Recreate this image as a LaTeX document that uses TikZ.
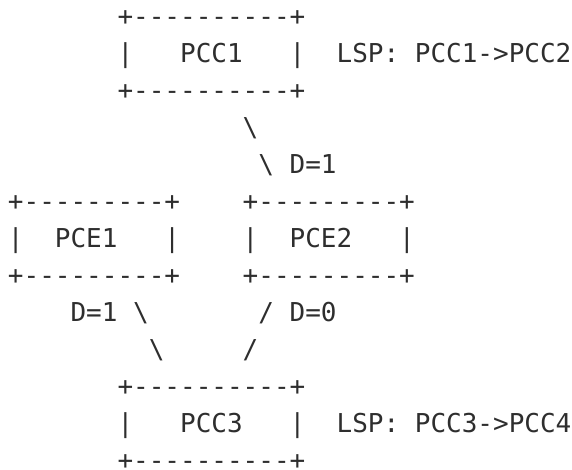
\documentclass[tikz,border=0pt]{standalone}
\usepackage{fontspec}
\setmonofont{DejaVu Sans Mono}
\tikzstyle{asc}=[anchor=base west,inner sep=0pt,text=black!82,font=\ttfamily\fontsize{19.5}{23}\selectfont]

\begin{document}
\begin{tikzpicture}[x=0.75pt,y=-0.75pt]
\fill[white] (0,0) rectangle (572,470);
\useasboundingbox (0,0) rectangle (572,470);
% PCC1
\node[asc] (pcc1top) at (117.25,25.4) {+----------+};
\node[asc] (pcc1l) at (117.25,62.4) {|};
\node[asc] (pcc1) at (179.85,62.4) {PCC1};
\node[asc] (pcc1r) at (289.4,62.4) {|};
\node[asc] (lsp1) at (336.35,62.4) {LSP: PCC1->PCC2};
\node[asc] (pcc1bot) at (117.25,99.4) {+----------+};
% link PCC1 - PCE2
\node[asc] (la) at (242.45,136.4) {\textbackslash};
\node[asc] (lb) at (258.1,173.4) {\textbackslash};
\node[asc] (d1) at (289.4,173.4) {D=1};
% PCE1, PCE2
\node[asc] (pce1top) at (7.7,210.4) {+---------+};
\node[asc] (pce2top) at (242.45,210.4) {+---------+};
\node[asc] (pce1l) at (7.7,247.4) {|};
\node[asc] (pce1) at (54.65,247.4) {PCE1};
\node[asc] (pce1r) at (164.2,247.4) {|};
\node[asc] (pce2l) at (242.45,247.4) {|};
\node[asc] (pce2) at (289.4,247.4) {PCE2};
\node[asc] (pce2r) at (398.95,247.4) {|};
\node[asc] (pce1bot) at (7.7,284.4) {+---------+};
\node[asc] (pce2bot) at (242.45,284.4) {+---------+};
% links to PCC3
\node[asc] (d2) at (70.3,321.4) {D=1};
\node[asc] (lc) at (132.9,321.4) {\textbackslash};
\node[asc] (ld) at (258.1,321.4) {/};
\node[asc] (d3) at (289.4,321.4) {D=0};
\node[asc] (le) at (148.55,358.4) {\textbackslash};
\node[asc] (lf) at (242.45,358.4) {/};
% PCC3
\node[asc] (pcc3top) at (117.25,395.4) {+----------+};
\node[asc] (pcc3l) at (117.25,432.4) {|};
\node[asc] (pcc3) at (179.85,432.4) {PCC3};
\node[asc] (pcc3r) at (289.4,432.4) {|};
\node[asc] (lsp3) at (336.35,432.4) {LSP: PCC3->PCC4};
\node[asc] (pcc3bot) at (117.25,469.4) {+----------+};
\end{tikzpicture}
\end{document}
